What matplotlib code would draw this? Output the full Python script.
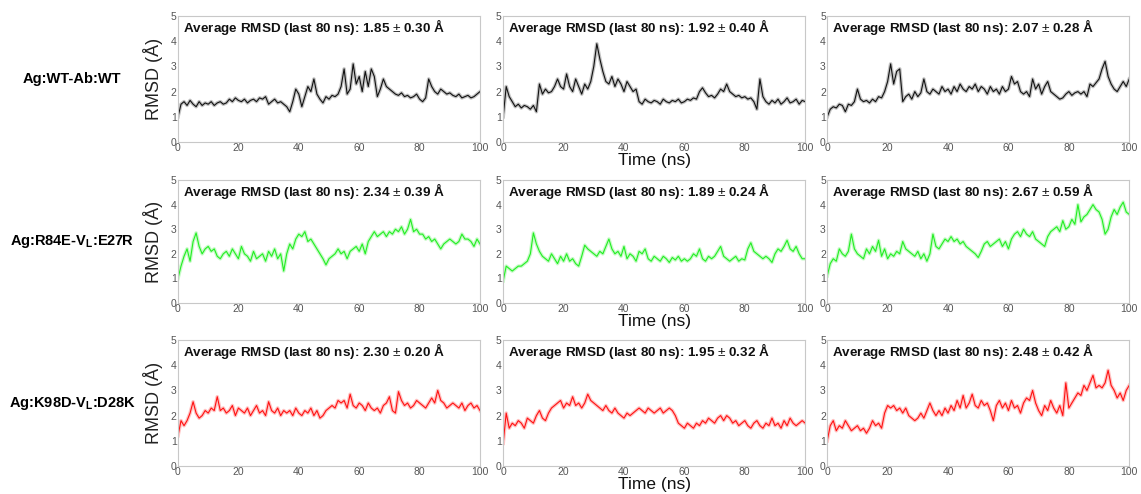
import numpy as np
import matplotlib
matplotlib.use('Agg')
import matplotlib.pyplot as plt

plt.rcParams['font.family'] = ['Liberation Sans', 'DejaVu Sans']
plt.rcParams['mathtext.fontset'] = 'custom'
plt.rcParams['mathtext.rm'] = 'Liberation Sans'
plt.rcParams['mathtext.bf'] = 'Liberation Sans:bold'

# time axis (ns), one value per ns
time_ns = np.arange(0, 101)

# RMSD traces (Angstrom)
wt_1 = [1.0, 1.5, 1.6, 1.45, 1.65, 1.5, 1.4, 1.6, 1.45, 1.55,
        1.5, 1.6, 1.45, 1.55, 1.6, 1.5, 1.55, 1.7, 1.6, 1.75,
        1.65, 1.6, 1.7, 1.55, 1.65, 1.7, 1.6, 1.75, 1.7, 1.8,
        1.5, 1.6, 1.7, 1.55, 1.6, 1.5, 1.4, 1.2, 1.6, 2.1,
        1.9, 1.4, 1.8, 2.2, 2.0, 2.5, 1.9, 1.7, 1.55, 1.8,
        1.7, 1.85, 1.8, 1.9, 2.2, 2.9, 1.9, 2.1, 3.1, 2.3,
        2.6, 2.0, 2.8, 2.2, 2.9, 2.6, 1.8, 2.1, 2.5, 2.2,
        2.1, 2.0, 1.9, 1.85, 1.95, 1.8, 1.85, 1.75, 1.8, 1.9,
        1.7, 1.6, 1.75, 2.5, 2.2, 2.0, 1.9, 2.1, 2.0, 1.9,
        1.95, 1.85, 1.8, 1.9, 1.75, 1.8, 1.85, 1.75, 1.8, 1.9,
        2.0]
wt_2 = [1.0, 2.2, 1.8, 1.6, 1.4, 1.5, 1.35, 1.45, 1.4, 1.3,
        1.45, 1.2, 2.3, 1.9, 2.1, 1.95, 2.0, 2.2, 2.5, 2.2,
        2.1, 2.7, 2.2, 2.0, 2.5, 2.2, 1.9, 2.3, 2.1, 2.4,
        3.0, 3.9, 3.3, 2.8, 2.4, 2.3, 2.6, 2.2, 2.5, 2.3,
        2.0, 2.4, 2.2, 2.0, 2.1, 1.6, 1.5, 1.7, 1.6, 1.55,
        1.65, 1.6, 1.5, 1.7, 1.6, 1.55, 1.65, 1.6, 1.7, 1.55,
        1.6, 1.7, 1.65, 1.75, 1.7, 2.0, 2.15, 1.95, 1.8, 1.85,
        1.75, 1.9, 2.1, 2.0, 2.3, 2.0, 1.9, 1.8, 1.85, 1.75,
        1.8, 1.7, 1.75, 1.6, 1.3, 2.5, 1.8, 1.6, 1.5, 1.65,
        1.55, 1.7, 1.5, 1.6, 1.75, 1.55, 1.6, 1.7, 1.5, 1.65,
        1.6]
wt_3 = [1.0, 1.3, 1.4, 1.35, 1.5, 1.45, 1.2, 1.5, 1.45, 1.6,
        2.1, 1.7, 1.6, 1.65, 1.55, 1.7, 1.6, 1.8, 1.75, 2.0,
        2.4, 3.1, 2.3, 2.8, 2.9, 1.6, 1.8, 1.9, 1.7, 2.0,
        1.8, 1.95, 2.5, 2.0, 1.9, 2.1, 2.0, 1.9, 2.2, 2.0,
        2.1, 1.9, 2.2, 2.0, 2.3, 2.1, 2.0, 2.2, 2.1, 2.3,
        2.0, 2.2, 2.1, 1.9, 2.2, 2.0, 2.1, 1.9, 2.2, 2.0,
        2.1, 2.6, 2.3, 2.4, 2.0, 1.9, 2.0, 1.8, 2.5, 2.1,
        2.3, 1.9, 2.2, 2.4, 2.0, 1.9, 1.8, 1.7, 1.75, 1.9,
        2.0, 1.85, 1.95, 2.0, 1.9, 2.0, 1.8, 2.3, 2.2, 2.35,
        2.5, 2.9, 3.2, 2.6, 2.3, 2.1, 2.0, 2.2, 2.4, 2.2,
        2.5]

r84_1 = [1.0, 1.5, 1.9, 2.2, 1.7, 2.5, 2.85, 2.3, 2.0, 2.2,
         2.3, 2.1, 2.2, 1.9, 1.8, 2.0, 2.1, 1.9, 2.2, 2.0,
         1.8, 2.3, 2.0, 1.9, 1.7, 2.1, 1.8, 1.9, 2.0, 1.7,
         2.1, 1.9, 2.2, 1.8, 2.0, 1.3, 2.0, 2.4, 2.2, 2.6,
         2.8, 2.7, 2.9, 2.5, 2.6, 2.4, 2.2, 2.0, 1.8, 1.55,
         1.8, 1.9, 2.0, 2.2, 2.0, 2.1, 1.8, 2.1, 2.2, 2.3,
         2.1, 2.4, 2.0, 2.5, 2.7, 2.9, 2.7, 2.8, 2.9, 2.7,
         2.9, 2.8, 3.0, 2.9, 3.1, 2.8, 3.0, 3.4, 2.9, 3.0,
         2.8, 2.8, 2.6, 2.7, 2.5, 2.6, 2.4, 2.2, 2.4, 2.5,
         2.6, 2.5, 2.4, 2.5, 2.8, 2.6, 2.6, 2.5, 2.3, 2.6,
         2.4]
r84_2 = [0.9, 1.5, 1.4, 1.3, 1.4, 1.5, 1.5, 1.6, 1.7, 2.0,
         2.85, 2.4, 2.1, 1.9, 1.8, 1.7, 2.0, 1.8, 1.6, 1.9,
         1.7, 2.0, 1.7, 1.8, 1.6, 1.5, 1.9, 2.35, 2.2, 2.1,
         2.0, 1.9, 2.1, 2.0, 2.3, 2.6, 2.2, 2.0, 2.1, 1.9,
         2.3, 1.8, 2.0, 1.9, 1.7, 2.1, 2.0, 2.2, 1.8, 1.7,
         1.9, 1.8, 1.7, 1.9, 1.8, 1.65, 1.85, 1.75, 1.9, 1.7,
         1.8, 1.7, 1.8, 2.0, 1.9, 2.2, 1.8, 1.7, 1.9, 1.8,
         1.9, 2.1, 2.3, 1.9, 1.8, 1.7, 1.8, 1.9, 1.7, 1.8,
         1.75, 2.2, 2.45, 2.1, 2.0, 1.9, 1.8, 1.9, 1.8, 1.65,
         2.0, 2.2, 2.1, 2.3, 2.55, 2.2, 2.1, 2.3, 2.0, 1.8,
         1.8]
r84_3 = [1.1, 1.6, 1.8, 1.7, 2.2, 2.0, 1.9, 2.1, 2.8, 2.2,
         2.0, 1.9, 1.8, 2.2, 2.0, 2.3, 2.1, 2.55, 1.9, 2.2,
         1.8, 2.0, 1.9, 2.1, 2.0, 2.5, 2.2, 2.1, 2.0, 1.9,
         2.1, 1.8, 2.0, 1.7, 2.0, 2.8, 2.3, 2.2, 2.4, 2.6,
         2.5, 2.7, 2.5, 2.6, 2.4, 2.5, 2.3, 2.2, 2.1, 2.0,
         1.85, 2.1, 2.4, 2.5, 2.3, 2.4, 2.5, 2.6, 2.3, 2.5,
         2.2, 2.6, 2.8, 2.9, 2.7, 3.0, 2.8, 2.7, 2.9, 2.6,
         2.5, 2.4, 2.3, 2.7, 2.9, 3.0, 3.1, 2.9, 3.35, 3.0,
         3.1, 3.4, 3.2, 4.0, 3.3, 3.5, 3.6, 3.8, 4.0, 3.8,
         3.7, 3.4, 2.8, 3.0, 3.5, 3.8, 3.6, 3.9, 4.1, 3.7,
         3.6]

k98_1 = [1.2, 1.8, 1.6, 1.8, 2.1, 2.55, 2.1, 1.9, 2.0, 2.2,
         2.1, 2.3, 2.2, 2.75, 2.2, 2.3, 2.1, 2.2, 2.4, 2.0,
         2.3, 2.2, 2.1, 2.3, 2.0, 2.2, 2.4, 2.1, 2.2, 2.0,
         2.55, 2.2, 2.1, 2.3, 2.0, 2.2, 2.1, 2.2, 2.0, 2.3,
         2.1, 2.0, 2.2, 2.1, 2.3, 2.0, 2.2, 1.9, 2.0, 2.2,
         2.3, 2.4, 2.3, 2.6, 2.5, 2.6, 2.3, 2.85, 2.4, 2.3,
         2.5, 2.4, 2.2, 2.5, 2.3, 2.2, 2.3, 2.1, 2.4, 2.5,
         2.75, 2.2, 2.1, 2.95, 2.6, 2.4, 2.5, 2.3, 2.4, 2.6,
         2.5, 2.4, 2.3, 2.5, 2.7, 2.5, 3.0, 2.6, 2.5, 2.3,
         2.4, 2.5, 2.4, 2.3, 2.5, 2.2, 2.4, 2.5, 2.3, 2.4,
         2.2]
k98_2 = [0.9, 2.1, 1.5, 1.7, 1.6, 1.8, 1.7, 1.5, 1.9, 1.8,
         1.7, 2.0, 2.2, 1.9, 1.8, 2.1, 2.3, 2.4, 2.5, 2.6,
         2.3, 2.5, 2.4, 2.75, 2.4, 2.5, 2.3, 2.5, 2.85, 2.6,
         2.5, 2.4, 2.3, 2.2, 2.4, 2.2, 2.1, 2.3, 2.1, 2.0,
         1.9, 2.1, 2.0, 2.1, 2.2, 2.3, 2.2, 2.1, 2.3, 2.2,
         2.1, 2.2, 2.3, 2.1, 2.2, 2.3, 2.2, 2.0, 1.7, 1.6,
         1.5, 1.7, 1.6, 1.5, 1.7, 1.6, 1.8, 1.7, 1.9, 1.8,
         1.7, 1.9, 2.0, 1.8, 2.0, 1.9, 1.7, 1.8, 1.6, 1.7,
         1.8, 1.6, 1.5, 1.7, 1.8, 1.6, 1.5, 1.7, 1.6, 1.9,
         1.6, 1.7, 1.5, 1.8, 1.6, 1.9, 1.7, 1.6, 1.7, 1.8,
         1.7]
k98_3 = [1.0, 1.6, 1.8, 1.4, 1.6, 1.5, 1.8, 1.6, 1.4, 1.5,
         1.6, 1.4, 1.5, 1.3, 1.5, 1.8, 1.6, 1.7, 1.5, 2.1,
         2.4, 2.3, 2.4, 2.2, 2.3, 2.1, 2.3, 2.0, 1.9, 1.8,
         1.9, 2.1, 1.9, 2.2, 2.5, 2.2, 2.0, 2.2, 2.0, 2.3,
         2.1, 2.4, 2.2, 2.6, 2.3, 2.8, 2.3, 2.5, 2.85, 2.4,
         2.3, 2.6, 2.4, 2.5, 2.2, 1.8, 2.4, 2.6, 2.3, 2.5,
         2.2, 2.6, 2.3, 2.4, 2.1, 2.5, 2.7, 2.6, 3.0, 2.5,
         2.2, 2.0, 2.4, 2.2, 2.6, 2.3, 2.1, 2.4, 2.0, 3.3,
         2.3, 2.5, 2.7, 2.9, 2.8, 3.2, 3.0, 3.3, 3.6, 3.1,
         3.2, 3.1, 3.3, 3.8, 3.2, 3.0, 2.7, 2.9, 2.6, 3.0,
         3.2]

row_labels = ['Ag:WT-Ab:WT', r'Ag:R84E-V$_\mathbf{L}$:E27R', r'Ag:K98D-V$_\mathbf{L}$:D28K']
row_colors = ['#111111', '#22ee22', '#ff1111']
series = [[wt_1, wt_2, wt_3], [r84_1, r84_2, r84_3], [k98_1, k98_2, k98_3]]
avg_rmsd = [[1.85, 1.92, 2.07], [2.34, 1.89, 2.67], [2.30, 1.95, 2.48]]
std_rmsd = [[0.30, 0.40, 0.28], [0.39, 0.24, 0.59], [0.20, 0.32, 0.42]]
x_ticks = [0, 20, 40, 60, 80, 100]
y_ticks = [0, 1, 2, 3, 4, 5]

fig = plt.figure(figsize=(11.41, 4.94), dpi=100)

lefts = [0.156, 0.441, 0.725]
bottoms = [0.7126, 0.3866, 0.0567]
heights = [0.255, 0.249, 0.255]
width = 0.2647

for r in range(3):
    for c in range(3):
        ax = fig.add_axes([lefts[c], bottoms[r], width, heights[r]])
        y = series[r][c]
        # soft wide line underneath gives the fuzzy look of the trace
        ax.plot(time_ns, y, color=row_colors[r], lw=2.6, alpha=0.25)
        ax.plot(time_ns, y, color=row_colors[r], lw=0.8)
        ax.set_xlim(0, 100)
        ax.set_ylim(0, 5)
        ax.set_xticks(x_ticks)
        ax.set_yticks(y_ticks)
        ax.tick_params(length=0, labelsize=7.5, colors='#555555', pad=1)
        for s in ax.spines.values():
            s.set_color('#c8c8c8')
            s.set_linewidth(0.8)
        ax.text(0.017, 0.91,
                'Average RMSD (last 80 ns): %.2f $\\pm$ %.2f Å' % (avg_rmsd[r][c], std_rmsd[r][c]),
                transform=ax.transAxes, fontsize=9.7, fontweight='bold',
                ha='left', va='center', color='#111111')
        if c == 0:
            ax.set_ylabel('RMSD (Å)', fontsize=13, color='#222222')
            ax.yaxis.set_label_coords(-0.05, 0.5)
        if c == 1:
            ax.annotate('Time (ns)', xy=(0.5, 0), xycoords='axes fraction',
                        xytext=(0, -11), textcoords='offset pixels',
                        fontsize=12.5, ha='center', va='top', color='#111111')
    fig.text(72 / 1141, bottoms[r] + heights[r] / 2, row_labels[r],
             fontsize=10.5, fontweight='bold', ha='center', va='center')

fig.savefig('out.png', dpi=100)
